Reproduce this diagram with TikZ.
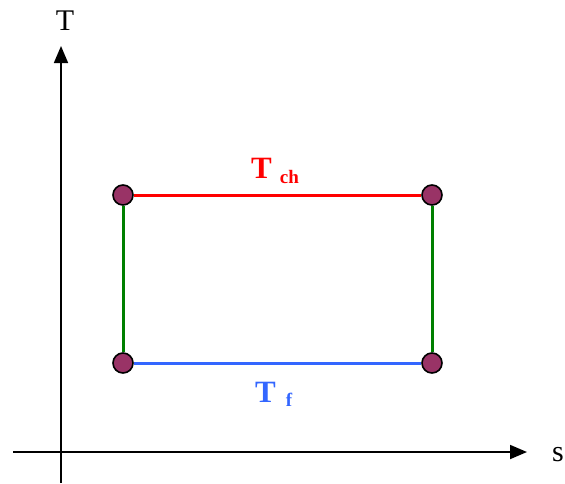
\documentclass[tikz,border=0pt]{standalone}
\usepackage{fontspec}
\setmainfont{Liberation Serif}
\usetikzlibrary{arrows.meta}
\definecolor{dotfill}{RGB}{153,51,102}
\definecolor{hotline}{RGB}{255,0,0}
\definecolor{coldline}{RGB}{51,102,255}
\definecolor{sideline}{RGB}{0,128,0}
\begin{document}
\begin{tikzpicture}[x=1pt,y=-1pt,
  axis/.style={line width=1.8pt,-{Triangle[length=17pt,width=14pt]}},
  corner/.style={circle,draw=black,line width=1.6pt,fill=dotfill,minimum size=20pt,inner sep=0pt},
  edge/.style={line width=3pt},
  axlabel/.style={font=\fontsize{30}{30}\selectfont,inner sep=0pt}]
\useasboundingbox (0,0) rectangle (565,483);
\coordinate (xs) at (13,452);
\coordinate (xe) at (527,452);
\coordinate (ys) at (61,483);
\coordinate (ye) at (61,46);
\draw[axis] (xs) -- (xe);
\draw[axis] (ys) -- (ye);
\node[axlabel] (Tlab) at (65,21) {T};
\node[axlabel] (slab) at (558,455) {s};
\node[corner] (a) at (123,195) {};
\node[corner] (b) at (432,195) {};
\node[corner] (c) at (123,363) {};
\node[corner] (d) at (432,363) {};
\draw[edge,hotline] (a) -- (b);
\draw[edge,coldline] (c) -- (d);
\draw[edge,sideline] (a) -- (c);
\draw[edge,sideline] (b) -- (d);
\node[hotline,anchor=base west,inner sep=0pt] (tch) at (251,178)
  {\fontsize{31}{31}\selectfont\bfseries T\hspace{8pt}\raisebox{-5pt}{\fontsize{19}{19}\selectfont ch}};
\node[coldline,anchor=base west,inner sep=0pt] (tf) at (255,402)
  {\fontsize{31}{31}\selectfont\bfseries T\hspace{10pt}\raisebox{-4pt}{\fontsize{19}{19}\selectfont f}};
\end{tikzpicture}
\end{document}
